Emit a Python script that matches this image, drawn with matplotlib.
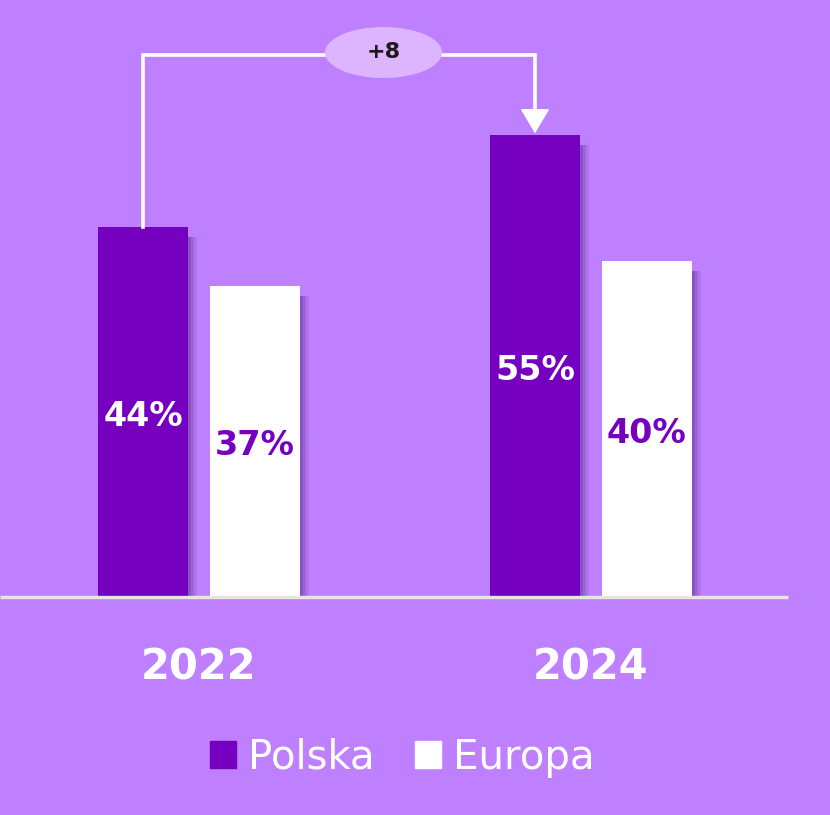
import matplotlib.pyplot as plt
from matplotlib.patches import Ellipse, Rectangle

years = ['2022', '2024']
polska = [44, 55]
europa = [37, 40]
change_label = '+8'

bg = '#BF80FF'
purple = '#7500C0'
white = '#FFFFFF'

fig = plt.figure(figsize=(8.3, 8.15), dpi=100, facecolor=bg)
ax = fig.add_axes([0, 0, 1, 1])
ax.set_facecolor(bg)

px = 392.0  # pixels per x unit
py = 8.4    # pixels per y unit
ax.set_xlim(-198.75 / px, (830 - 198.75) / px)
ax.set_ylim(-218 / py, 597 / py)
ax.axis('off')

w = 90 / px
off = 55.75 / px
xs = range(len(years))

# soft shadows to the right of the bars
for k, a in zip([3, 6, 9], [0.30, 0.22, 0.14]):
    for i in xs:
        for x0, v in [(i - off, polska[i]), (i + off, europa[i])]:
            ax.bar(x0 + k / px, v - 1.2, width=w, bottom=0, color='#5E2F8C',
                   alpha=a, zorder=1, linewidth=0)

ax.bar([i - off for i in xs], polska, width=w, color=purple, zorder=3, label='Polska')
ax.bar([i + off for i in xs], europa, width=w, color=white, zorder=3, label='Europa')

for i in xs:
    ax.text(i - off, polska[i] / 2 - 0.5, f'{polska[i]}%', ha='center', va='center',
            color=white, fontsize=24, fontweight='bold', zorder=4)
    ax.text(i + off, europa[i] / 2 - 0.5, f'{europa[i]}%', ha='center', va='center',
            color=purple, fontsize=24, fontweight='bold', zorder=4)
    ax.text(i, -(667 - 597) / py, years[i], ha='center', va='center',
            color=white, fontsize=30, fontweight='bold')

# baseline
ax.plot([ax.get_xlim()[0], (788 - 198.75) / px], [0, 0], color='#E6E6E0', lw=2.4, zorder=5,
        solid_capstyle='butt')

# change arrow
ytop = (597 - 55) / py
x1, x2 = 0 - off, 1 - off
head = 22 / py
ax.plot([x1, x1, x2, x2], [polska[0], ytop, ytop, polska[1] + head + 0.2], color=white,
        lw=2.6, zorder=4, solid_joinstyle='miter')
ax.annotate('', xy=(x2, polska[1] + 0.2), xytext=(x2, polska[1] + head + 0.5),
            arrowprops=dict(arrowstyle='-|>,head_length=1.6,head_width=0.95',
                            color=white, lw=1, shrinkA=0, shrinkB=0), zorder=4)
ecx = (383.5 - 198.75) / px
ecy = (597 - 52.5) / py
ax.add_patch(Ellipse((ecx, ecy), 117 / px, 51 / py, facecolor='#DDB5FF',
                     edgecolor='none', zorder=5))
ax.text(ecx, ecy, change_label, ha='center', va='center', color='#1A1A1A',
        fontsize=16, fontweight='bold', zorder=6)

handles = [Rectangle((0, 0), 1, 1, color=purple), Rectangle((0, 0), 1, 1, color=white)]
leg = fig.legend(handles, ['Polska', 'Europa'], loc='center', bbox_to_anchor=(0.485, 0.07),
                 ncol=2, frameon=False, fontsize=29, handlelength=0.65, handleheight=0.65,
                 handletextpad=0.3, columnspacing=1.0, labelcolor=white)

fig.savefig('out.png', dpi=100, facecolor=bg)
